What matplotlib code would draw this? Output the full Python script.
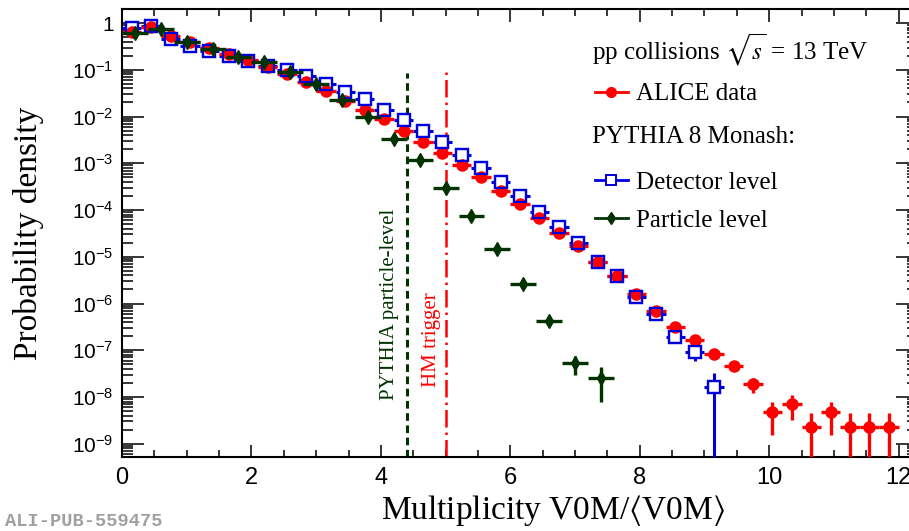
import math
import matplotlib.pyplot as plt
from matplotlib.lines import Line2D
from matplotlib.ticker import MultipleLocator, FixedLocator, LogLocator, NullFormatter, FuncFormatter

plt.rcParams['font.family'] = 'Liberation Serif'
plt.rcParams['mathtext.fontset'] = 'custom'
plt.rcParams['mathtext.rm'] = 'Liberation Sans'
plt.rcParams['mathtext.it'] = 'Liberation Sans:italic'

# ALICE data (bins of 0.3)
alice_x = [0.15, 0.45, 0.75, 1.05, 1.35, 1.65, 1.95, 2.25, 2.55, 2.85,
           3.15, 3.45, 3.75, 4.05, 4.35, 4.65, 4.95, 5.25, 5.55,
           5.85, 6.15, 6.45, 6.75, 7.05, 7.35, 7.65, 7.95, 8.25,
           8.55, 8.85, 9.15, 9.45, 9.75, 10.05, 10.35, 10.65, 10.95, 11.25, 11.55, 11.85]
alice_y = [0.65, 0.83, 0.52, 0.39, 0.29, 0.22, 0.166, 0.115, 0.083, 0.055,
           0.035, 0.022, 0.014, 0.0089, 0.0050, 0.0029, 0.0017, 9.3e-4, 5.1e-4,
           2.6e-4, 1.36e-4, 6.8e-5, 3.3e-5, 1.66e-5, 7.7e-6, 3.9e-6, 1.6e-6, 6.9e-7,
           3.2e-7, 1.67e-7, 8.3e-8, 4.5e-8, 1.9e-8, 4.7e-9, 7.1e-9, 2.3e-9, 4.7e-9, 2.3e-9, 2.3e-9, 2.3e-9]
alice_err = [0] * 31 + [0.5e-8, 0.67e-8, 3.2e-9, 3.9e-9, 2.2e-9, 3.2e-9, 2.2e-9, 2.2e-9, 2.2e-9]

# PYTHIA 8 Monash, detector level (bins of 0.3)
det_x = alice_x[:31]
det_y = [0.79, 0.85, 0.46, 0.32, 0.25, 0.195, 0.152, 0.123, 0.098, 0.075,
         0.050, 0.033, 0.024, 0.014, 0.0083, 0.0048, 0.0028, 0.0015, 7.9e-4,
         4.0e-4, 2.0e-4, 8.9e-5, 4.3e-5, 1.95e-5, 7.9e-6, 3.9e-6, 1.4e-6, 6.0e-7,
         1.9e-7, 9.3e-8, 1.62e-8]
det_err = [0] * 28 + [5e-8, 3.5e-8, 1.6e-8]

# PYTHIA 8 Monash, particle level (bins of 0.4)
part_x = [0.2, 0.6, 1.0, 1.4, 1.8, 2.2, 2.6, 3.0, 3.4, 3.8, 4.2, 4.6, 5.0,
          5.4, 5.8, 6.2, 6.6, 7.0, 7.4]
part_y = [0.60, 0.76, 0.39, 0.28, 0.19, 0.145, 0.089, 0.050, 0.023, 0.010,
          0.0033, 0.00116, 2.95e-4, 7.6e-5, 1.48e-5, 2.6e-6, 4.3e-7, 5.3e-8, 2.6e-8]
part_err = [0] * 17 + [2.4e-8, 1.8e-8]

pythia_cut = 4.4
hm_trigger = 5.0

red = '#ff0000'
blue = '#0000dd'
green = '#003300'

fig = plt.figure(figsize=(9.09, 5.31), dpi=100)
ax = fig.add_axes([122/909, 74/531, 796/909, 448/531])

ax.errorbar(det_x, det_y, yerr=det_err, xerr=0.15, fmt='s', color=blue, ms=8,
            mfc='white', mew=1.6, elinewidth=2.2, zorder=3)
ax.errorbar(alice_x, alice_y, yerr=alice_err, xerr=0.15, fmt='o', color=red, ms=8,
            elinewidth=2.4, zorder=4)
ax.plot(det_x, det_y, 's', ms=8, mfc='none', mec=blue, mew=1.6, zorder=5)
ax.errorbar(part_x, part_y, yerr=part_err, xerr=0.2, fmt='d', color=green, ms=7.5,
            elinewidth=2.4, zorder=6)

ax.axvline(pythia_cut, ymax=0.857, color=green, lw=2.2, ls=(0, (2.5, 1.5)), zorder=2)
ax.axvline(hm_trigger, ymax=0.864, color=red, lw=1.8, ls=(0, (7, 2, 1, 2)), zorder=2)

ax.text(4.28, 8.7e-9, 'PYTHIA particle-level', rotation=90, ha='right', va='bottom',
        color=green, fontsize=15)
ax.text(4.93, 1.6e-8, 'HM trigger', rotation=90, ha='right', va='bottom',
        color=red, fontsize=15)

ax.set_yscale('log')
ax.set_xlim(0, 12.3)
ax.set_ylim(5.2e-10, 2.0)

ax.xaxis.set_major_locator(MultipleLocator(2))
ax.xaxis.set_minor_locator(MultipleLocator(0.5))
ax.yaxis.set_major_locator(FixedLocator([1e-9, 1e-8, 1e-7, 1e-6, 1e-5, 1e-4, 1e-3, 1e-2, 1e-1, 1]))
ax.yaxis.set_minor_locator(LogLocator(base=10, subs=range(2, 10), numticks=30))
ax.yaxis.set_minor_formatter(NullFormatter())
ax.yaxis.set_major_formatter(FuncFormatter(
    lambda v, p: '1' if v >= 0.99 else r'$10^{%d}$' % round(math.log10(v))))

ax.tick_params(which='both', direction='in', top=True, right=True,
               labelfontfamily='Liberation Sans')
ax.tick_params(axis='x', which='major', length=9, width=1.1, labelsize=17, pad=7)
ax.tick_params(axis='x', which='minor', length=5, width=1.1)
ax.tick_params(axis='y', which='major', length=16, width=1.1, labelsize=15, pad=6)
ax.tick_params(axis='y', which='minor', length=8, width=1.1)
for s in ax.spines.values():
    s.set_linewidth(1.5)

ax.set_ylabel('Probability density', fontsize=24)
ax.yaxis.set_label_coords(-0.098, 0.5)
ax.set_xlabel(r'Multiplicity V0M/$\langle$V0M$\rangle$', fontsize=24, math_fontfamily='stix')
ax.xaxis.set_label_coords(0.541, -0.08)

fig.text(592/909, 1 - 50/531, r'pp collisions $\sqrt{s}$ = 13 TeV', fontsize=18,
         va='center', math_fontfamily='stix')
fig.text(592/909, 1 - 137/531, 'PYTHIA 8 Monash:', fontsize=18, va='center')

h_alice = Line2D([], [], color=red, marker='o', ms=7, lw=2)
h_det = Line2D([], [], color=blue, marker='s', ms=6.5, mfc='white', mew=1.4, lw=2)
h_part = Line2D([], [], color=green, marker='d', ms=6.5, lw=2)

leg1 = ax.legend([h_alice], ['ALICE data'], loc='center left',
                 bbox_to_anchor=(595/909, 1 - 94/531), bbox_transform=fig.transFigure,
                 frameon=False, borderpad=0, borderaxespad=0, handlelength=1.3,
                 handletextpad=0.35, prop={'family': 'Liberation Serif', 'size': 18})
ax.add_artist(leg1)
ax.legend([h_det, h_part], ['Detector level', 'Particle level'], loc='center left',
          bbox_to_anchor=(595/909, 1 - 201.5/531), bbox_transform=fig.transFigure,
          frameon=False, borderpad=0, borderaxespad=0, handlelength=1.3,
          handletextpad=0.35, labelspacing=0.6, prop={'family': 'Liberation Serif', 'size': 18})

fig.text(5/909, 1 - 522/531, 'ALI-PUB-559475', family='Liberation Mono', weight='bold',
         color='#a0a0a0', fontsize=13.5, va='center')

fig.savefig('out.png', dpi=100)
